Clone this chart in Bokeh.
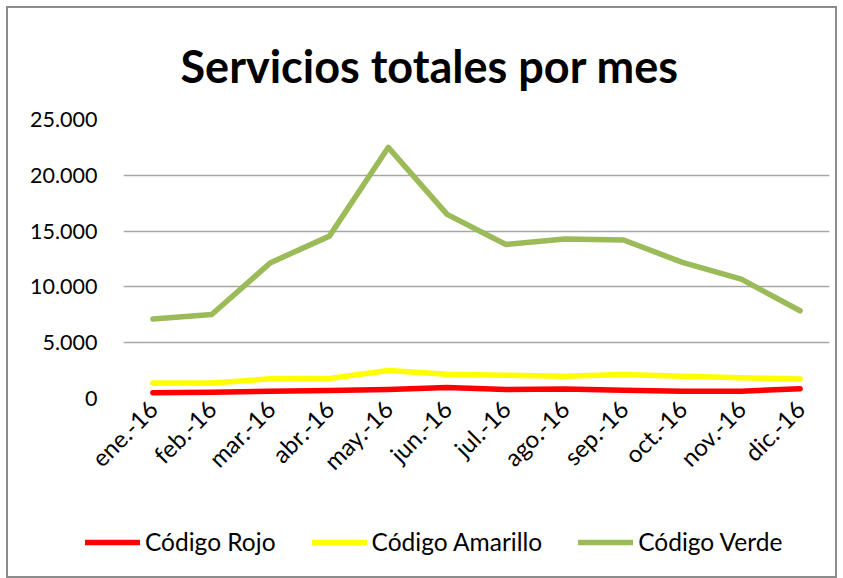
import math
from bokeh.plotting import figure
from bokeh.models import (FactorRange, Range1d, Legend, LegendItem, CustomJSTickFormatter,
                          FixedTicker)
from bokeh.embed import file_html
from bokeh.resources import INLINE

months = ["ene.-16", "feb.-16", "mar.-16", "abr.-16", "may.-16", "jun.-16",
          "jul.-16", "ago.-16", "sep.-16", "oct.-16", "nov.-16", "dic.-16"]
rojo = [520, 550, 660, 720, 800, 980, 800, 850, 750, 660, 660, 880]
amarillo = [1400, 1380, 1760, 1800, 2500, 2180, 2090, 2000, 2150, 2000, 1850, 1740]
verde = [7120, 7530, 12170, 14550, 22500, 16500, 13800, 14300, 14200, 12200, 10700, 7860]
series = [("Código Rojo", rojo, "#FF0000"),
          ("Código Amarillo", amarillo, "#FFFF00"),
          ("Código Verde", verde, "#9BBB59")]
y_ticks = [0, 5000, 10000, 15000, 20000, 25000]

FONT = "Lato"
BORDER = "2px solid #8c8c8c"

# ---------------- main chart ----------------
p = figure(width=831, height=500, x_range=FactorRange(factors=months),
           y_range=Range1d(0, 25000), output_backend="svg", toolbar_location=None,
           min_border_left=115, min_border_right=10, min_border_top=111,
           min_border_bottom=110)
p.margin = (6, 0, 0, 6)
p.styles = {"border-top": BORDER, "border-left": BORDER, "border-right": BORDER,
            "box-sizing": "border-box"}
p.outline_line_color = None
p.background_fill_color = "white"

p.title.text = "Servicios totales por mes"
p.title.text_font = FONT
p.title.text_font_size = "45px"
p.title.text_font_style = "bold"
p.title.align = "left"
p.title.text_color = "black"
p.title.offset = 57
p.title.standoff = 54

for name, vals, color in series:
    p.line(months, vals, line_color=color, line_width=5.5, line_join="round", line_cap="round")

p.xgrid.grid_line_color = None
p.ygrid.grid_line_color = "#a6a6a6"
p.ygrid.grid_line_width = 1.5
p.yaxis.ticker = FixedTicker(ticks=y_ticks)
p.yaxis.formatter = CustomJSTickFormatter(code="""
    return tick.toFixed(0).replace(/\\B(?=(\\d{3})+(?!\\d))/g, '.');
""")
for ax in (p.xaxis, p.yaxis):
    ax.axis_line_color = None
    ax.major_tick_line_color = None
    ax.minor_tick_line_color = None
    ax.major_tick_out = 0
    ax.major_tick_in = 0
    ax.major_label_text_font = FONT
    ax.major_label_text_color = "black"
p.yaxis.major_label_text_font_size = "21.5px"
p.xaxis.major_label_text_font_size = "24px"
p.yaxis.major_label_standoff = 26
p.xaxis.major_label_standoff = 6
p.xaxis.major_label_orientation = math.pi / 4

# ---------------- legend strip (separate root, so no frame alignment) ----------------
lg = figure(width=831, height=72, x_range=FactorRange(factors=months),
            y_range=Range1d(-200000, -100000), output_backend="svg",
            toolbar_location=None, min_border=0)
lg.margin = (0, 0, 0, 6)
lg.styles = {"border-bottom": BORDER, "border-left": BORDER, "border-right": BORDER,
             "box-sizing": "border-box"}
lg.outline_line_color = None
lg.axis.visible = False
lg.grid.visible = False
items = []
for name, vals, color in series:
    r = lg.line(months, vals, line_color=color, line_width=5.5, line_cap="round")
    items.append(LegendItem(label=name, renderers=[r]))

legend = Legend(items=items, orientation="horizontal", location=(77, 22),
                padding=0, margin=0, spacing=36, glyph_width=55, glyph_height=20,
                label_standoff=5, label_text_font=FONT, label_text_font_size="24.5px",
                label_text_color="black", border_line_color=None,
                background_fill_alpha=0)
lg.add_layout(legend, "center")

open("out.html", "w").write(file_html([p, lg], INLINE))
